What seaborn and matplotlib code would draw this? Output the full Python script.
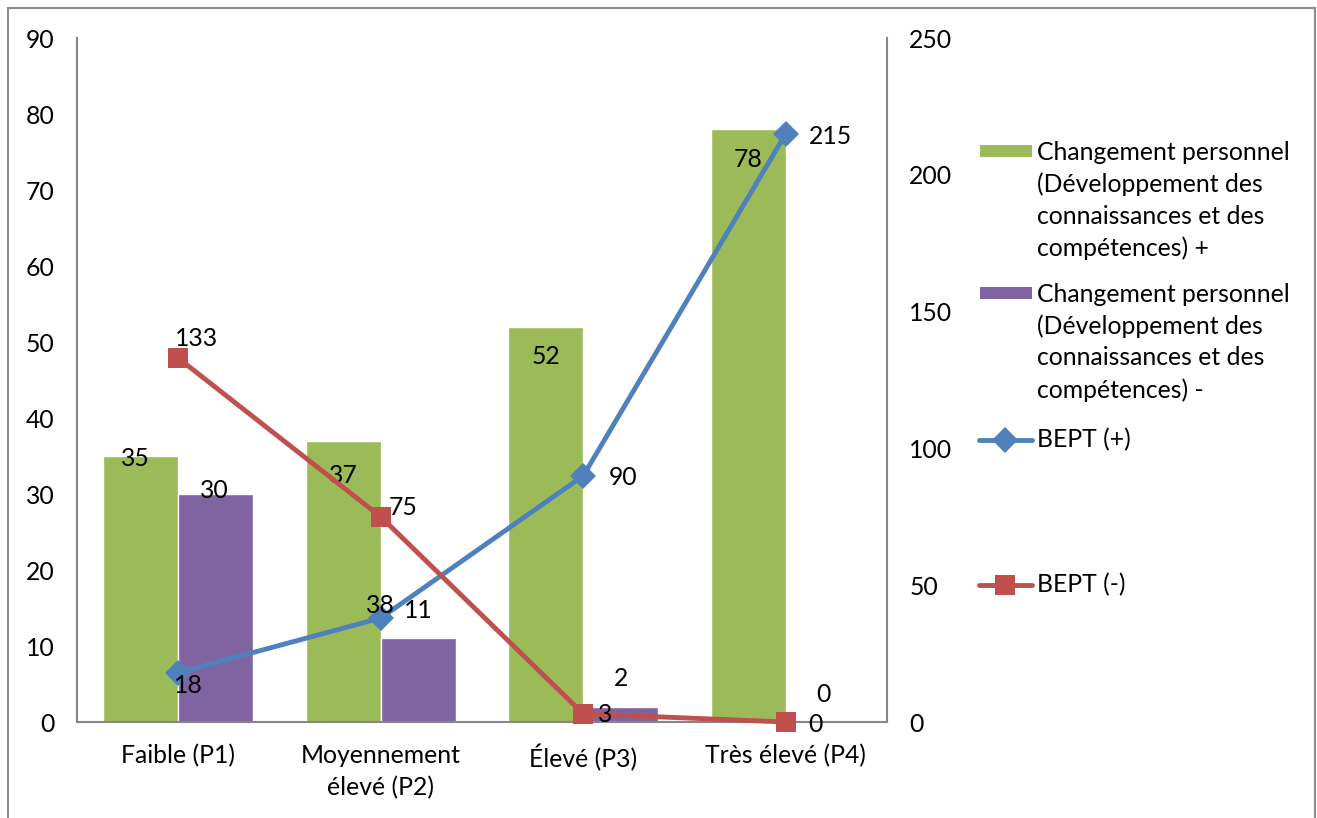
import numpy as np
import pandas as pd
import matplotlib
matplotlib.use("Agg")
import matplotlib.pyplot as plt
import seaborn as sns
from matplotlib.patches import Rectangle
from matplotlib.lines import Line2D

# Data
categories = ["Faible (P1)", "Moyennement\nélevé (P2)", "Élevé (P3)", "Très élevé (P4)"]
change_plus = [35, 37, 52, 78]
change_minus = [30, 11, 2, 0]
bept_plus = [18, 38, 90, 215]
bept_minus = [133, 75, 3, 0]
name_plus = "Changement personnel (Développement des connaissances et des compétences) +"
name_minus = "Changement personnel (Développement des connaissances et des compétences) -"
name_bept_plus = "BEPT (+)"
name_bept_minus = "BEPT (-)"
left_ticks = list(range(0, 91, 10))
right_ticks = list(range(0, 251, 50))

GREEN, PURPLE, BLUE, RED = "#9BBB59", "#8064A2", "#4F81BD", "#C0504D"
AXIS_GREY = "#868686"
FS = 17.8

sns.set_theme(style="white")
plt.rcParams["font.family"] = ["Lato", "DejaVu Sans"]

W, H = 1317, 818
fig = plt.figure(figsize=(W / 100, H / 100), dpi=100)


def fx(px):
    return px / W


def fy(py):
    return 1 - py / H


ax = fig.add_axes([fx(77), fy(722), fx(887) - fx(77), fy(38) - fy(722)])

bars = pd.DataFrame({
    "categorie": categories * 2,
    "valeur": change_plus + change_minus,
    "serie": [name_plus] * 4 + [name_minus] * 4,
})
sns.barplot(data=bars, x="categorie", y="valeur", hue="serie",
            palette=[GREEN, PURPLE], width=0.74, gap=0, saturation=1,
            errorbar=None, legend=False, ax=ax)
ax.set_xlim(-0.5, 3.5)
ax.set_ylim(0, 90)
ax.set_yticks(left_ticks)
ax.set_xlabel("")
ax.set_ylabel("")
ax.tick_params(axis="y", length=0, pad=16, labelsize=FS, labelcolor="black")
ax.tick_params(axis="x", length=0, pad=16, labelsize=FS, labelcolor="black")
for lab in ax.get_xticklabels():
    lab.set_horizontalalignment("center")
    lab.set_multialignment("center")
    lab.set_linespacing(1.45)
for side in ("top", "right"):
    ax.spines[side].set_visible(False)
for side in ("left", "bottom"):
    ax.spines[side].set_color(AXIS_GREY)
    ax.spines[side].set_linewidth(1.5)

# Bar value labels (pixel offsets from the top of each bar)
bar_offsets = [
    [(-5, -3), (0, -35), (0, -30), (0, -30)],
    [(-1, 3), (0, 28), (0, 28), (0, 27)],
]
for cont, values, offs in zip(ax.containers, [change_plus, change_minus], bar_offsets):
    for rect, v, off in zip(cont, values, offs):
        ax.annotate(str(v), (rect.get_x() + rect.get_width() / 2, v),
                    xytext=off, textcoords="offset pixels",
                    ha="center", va="center", fontsize=FS, color="black")

# Lines on the secondary axis
ax2 = ax.twinx()
xs = np.arange(len(categories))
sns.lineplot(x=xs, y=bept_plus, ax=ax2, color=BLUE, linewidth=3.5,
             marker="D", markersize=13, markeredgewidth=0, sort=False)
sns.lineplot(x=xs, y=bept_minus, ax=ax2, color=RED, linewidth=3.5,
             marker="s", markersize=14, markeredgewidth=0, sort=False)
for ln in ax2.lines:
    ln.set_clip_on(False)
ax2.set_xlim(-0.5, 3.5)
ax2.set_ylim(0, 250)
ax2.set_yticks(right_ticks)
ax2.set_ylabel("")
ax2.tick_params(axis="y", length=0, pad=16, labelsize=FS, labelcolor="black")
for side in ("top", "left", "bottom"):
    ax2.spines[side].set_visible(False)
ax2.spines["right"].set_color(AXIS_GREY)
ax2.spines["right"].set_linewidth(1.5)

line_offsets = {
    "plus": [(10, -13), (0, 13), (40, -2), (45, -3)],
    "minus": [(18, 20), (22, 9), (22, -1), (30, -2)],
}
for values, offs in ((bept_plus, line_offsets["plus"]), (bept_minus, line_offsets["minus"])):
    for x, v, off in zip(xs, values, offs):
        ax2.annotate(str(v), (x, v), xytext=off, textcoords="offset pixels",
                     ha="center", va="center", fontsize=FS, color="black")

# Legend drawn beside the plot area
legend_lines_plus = ["Changement personnel", "(Développement des",
                     "connaissances et des", "compétences) +"]
legend_lines_minus = ["Changement personnel", "(Développement des",
                      "connaissances et des", "compétences) -"]
for top, color, lines in ((152, GREEN, legend_lines_plus), (294, PURPLE, legend_lines_minus)):
    fig.add_artist(Rectangle((fx(980), fy(top + 5)), fx(1032) - fx(980), fy(top - 7) - fy(top + 5),
                             transform=fig.transFigure, facecolor=color, edgecolor="none"))
    for i, t in enumerate(lines):
        fig.text(fx(1037), fy(top + 32 * i), t, ha="left", va="center",
                 fontsize=FS, color="black")

for yc, color, mk, ms, label in ((440, BLUE, "D", 13, name_bept_plus),
                                 (585, RED, "s", 14, name_bept_minus)):
    fig.add_artist(Line2D([fx(979), fx(1032)], [fy(yc), fy(yc)], transform=fig.transFigure,
                          color=color, linewidth=3.5, solid_capstyle="round"))
    fig.add_artist(Line2D([fx(1005)], [fy(yc)], transform=fig.transFigure, color=color,
                          marker=mk, markersize=ms, markeredgewidth=0, linestyle="none"))
    fig.text(fx(1037), fy(yc), label, ha="left", va="center", fontsize=FS, color="black")

# Chart frame
fig.add_artist(Rectangle((fx(8), -0.05), fx(1315) - fx(8), fy(8) + 0.05,
                         transform=fig.transFigure, facecolor="none",
                         edgecolor="#8c8c8c", linewidth=1.5))

fig.savefig("out.png", dpi=100, facecolor="white")
